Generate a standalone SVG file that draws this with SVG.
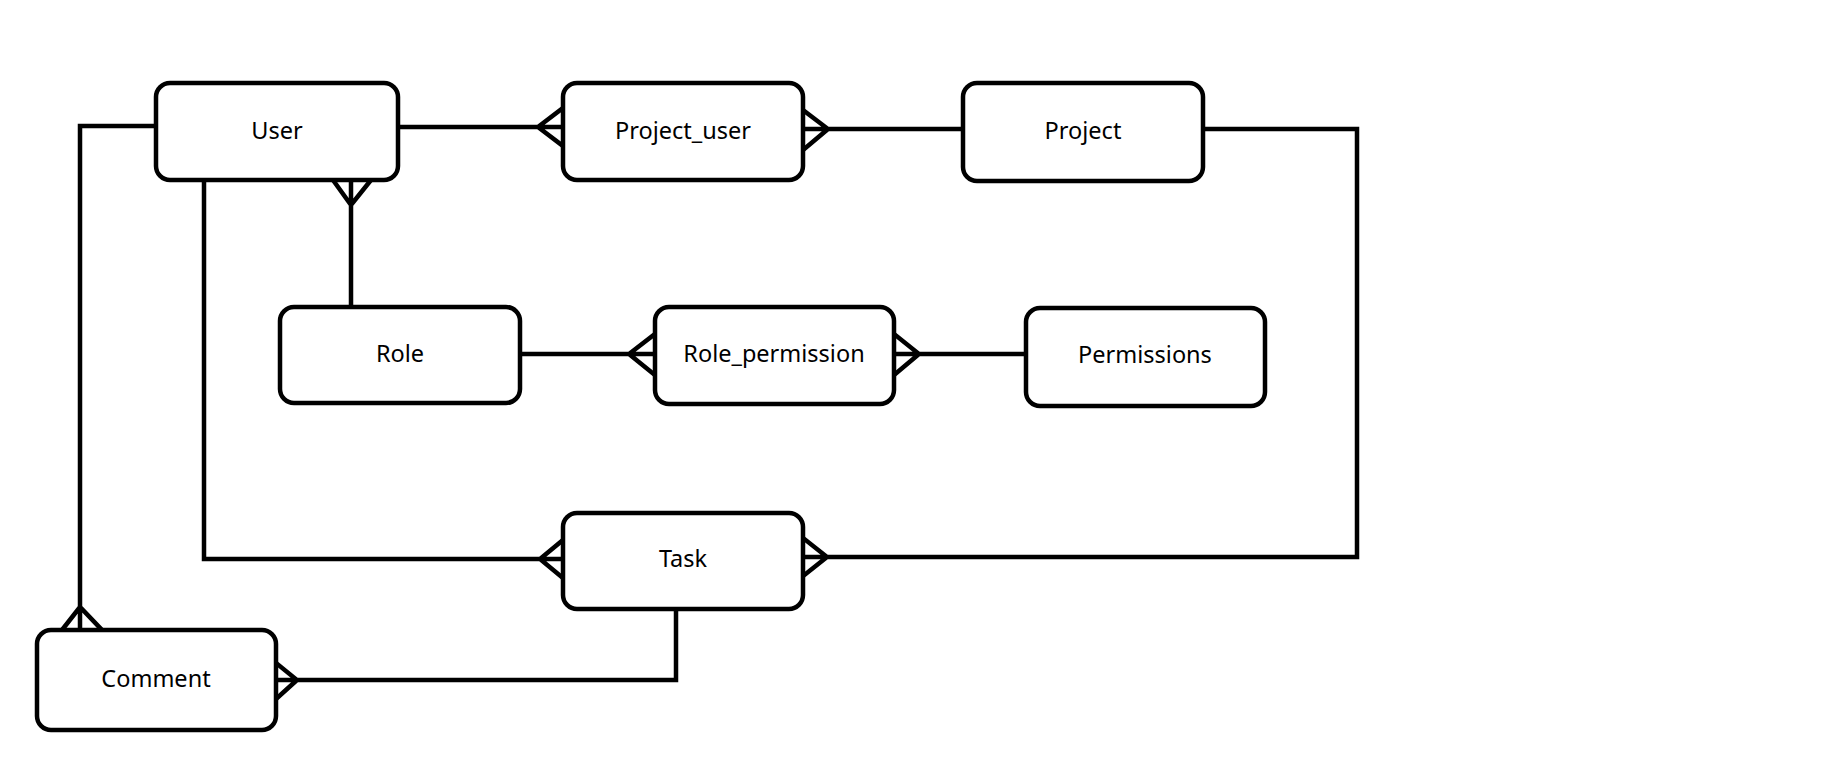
<svg xmlns="http://www.w3.org/2000/svg" width="1834" height="761" viewBox="0 0 1834 761">
<style>
.box{fill:#fff;stroke:#000;stroke-width:4.5}
.lbl{font-family:"Noto Sans","Open Sans","DejaVu Sans",sans-serif;font-size:23.5px;fill:#000;text-anchor:middle}
.ln{fill:none;stroke:#000;stroke-width:4.5;stroke-linejoin:miter;stroke-linecap:square}
</style>
<rect width="1834" height="761" fill="#fff"/>
<g id="connectors">
<path class="ln" d="M398,127 H563 M563,108 L538,127 L563,146"/>
<path class="ln" d="M803,129 H963 M803,110 L828,129 L803,150"/>
<path class="ln" d="M351,180 V307 M333,180 L351,205 L371,180"/>
<path class="ln" d="M520,354 H655 M655,334 L629,354 L655,375"/>
<path class="ln" d="M894,354 H1026 M894,334 L919,354 L894,375"/>
<path class="ln" d="M204,180 V559 H563 M563,540 L540,559 L563,578"/>
<path class="ln" d="M1203,129 H1357 V557 H803 M803,538 L827,557 L803,576"/>
<path class="ln" d="M156,126 H80 V630 M62,630 L80,607 L102,630"/>
<path class="ln" d="M676,609 V680 H276 M276,663 L297,680 L276,699"/>
</g>
<g id="user"><rect class="box" x="156" y="83" width="242" height="97" rx="14"/><text class="lbl" x="277" y="139">User</text></g>
<g id="project_user"><rect class="box" x="563" y="83" width="240" height="97" rx="14"/><text class="lbl" x="683" y="139">Project_user</text></g>
<g id="project"><rect class="box" x="963" y="83" width="240" height="98" rx="14"/><text class="lbl" x="1083" y="139">Project</text></g>
<g id="role"><rect class="box" x="280" y="307" width="240" height="96" rx="14"/><text class="lbl" x="400" y="362">Role</text></g>
<g id="role_permission"><rect class="box" x="655" y="307" width="239" height="97" rx="14"/><text class="lbl" x="774" y="362">Role_permission</text></g>
<g id="permissions"><rect class="box" x="1026" y="308" width="239" height="98" rx="14"/><text class="lbl" x="1145" y="363">Permissions</text></g>
<g id="task"><rect class="box" x="563" y="513" width="240" height="96" rx="14"/><text class="lbl" x="683" y="567">Task</text></g>
<g id="comment"><rect class="box" x="37" y="630" width="239" height="100" rx="14"/><text class="lbl" x="156" y="687">Comment</text></g>
</svg>
